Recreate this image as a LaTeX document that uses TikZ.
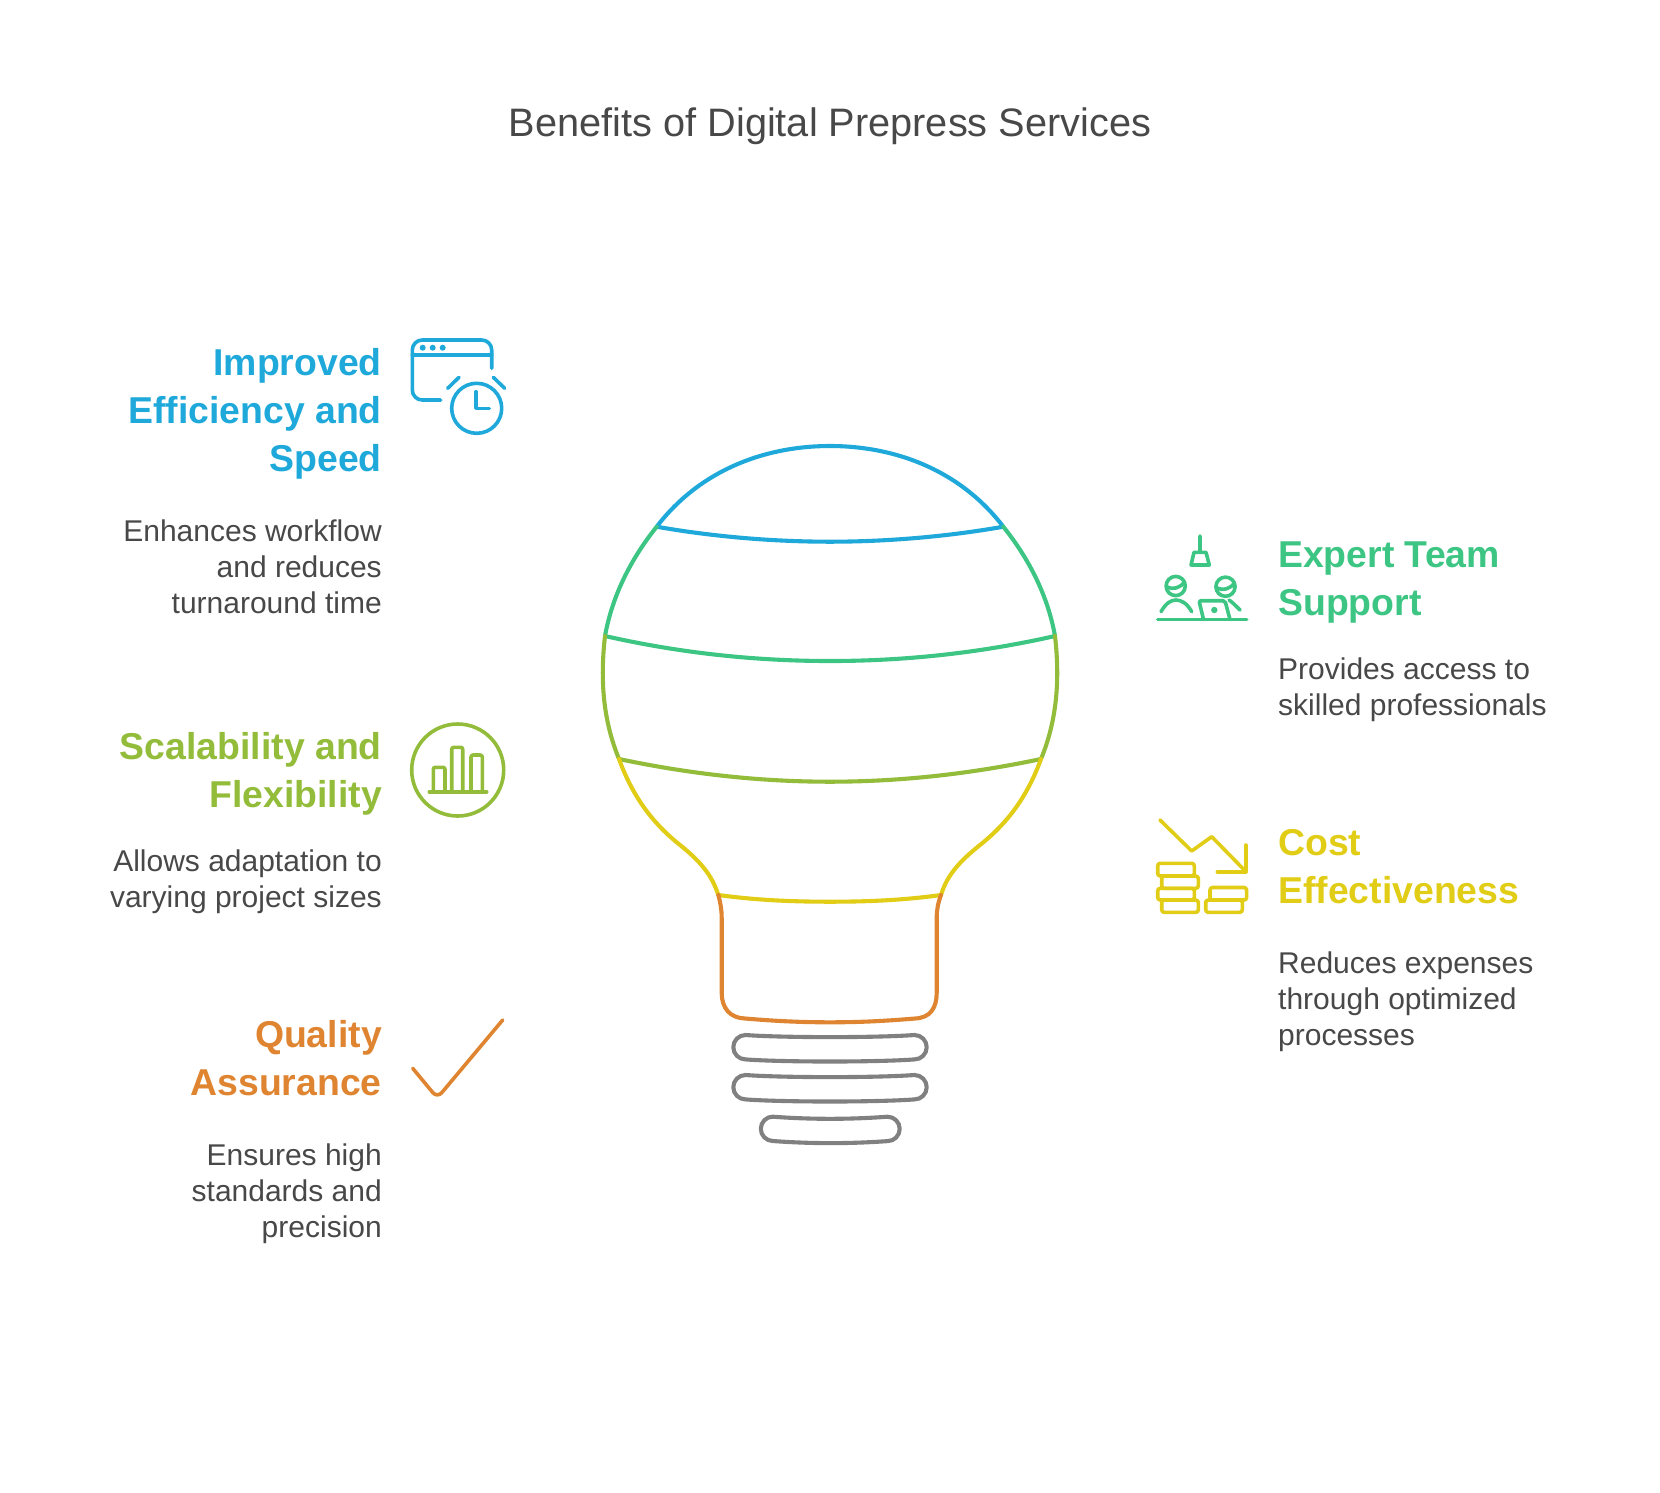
\documentclass[tikz,border=0pt]{standalone}
\usepackage{fontspec}
\setmainfont{Liberation Sans}
\definecolor{tblue}{HTML}{1EA9DA}
\definecolor{tgreen}{HTML}{3DC583}
\definecolor{tolive}{HTML}{92BC3A}
\definecolor{tyellow}{HTML}{E1CC16}
\definecolor{torange}{HTML}{DF8430}
\definecolor{tgrey}{HTML}{808080}
\definecolor{ttext}{HTML}{484848}
\tikzstyle{bulb} = [line width=4.1pt, line cap=round, line join=round]
\tikzstyle{pict} = [line width=3.6pt, line cap=round, line join=round]
\tikzstyle{head} = [inner sep=0pt, font=\bfseries\fontsize{37.4}{48}\selectfont]
\tikzstyle{desc} = [inner sep=0pt, text=ttext, font=\fontsize{30}{36}\selectfont]
\newcommand{\pill}[4]{\draw [bulb, tgrey] (#1+12,#3) .. controls (#1+50,#3+2.8) and (#2-50,#3+2.8) .. (#2-12,#3)
	arc (-90:90:12.2) .. controls (#2-50,#4+2.8) and (#1+50,#4+2.8) .. (#1+12,#4) arc (90:270:12.2) -- cycle;}
\newcommand{\coin}[3]{\draw [pict, tyellow, rounded corners=2.5pt] (#1,#2) rectangle (#1+36.6,#3);}
\begin{document}
\begin{tikzpicture}[x=1pt, y=-1pt]
	\useasboundingbox (0,0) rectangle (1660,1492);
	\node (title) at (830,126) [text=ttext, inner sep=0pt, font=\fontsize{39.7}{46}\selectfont] {Benefits of Digital Prepress Services};
	% bulb, top to bottom
	\draw [bulb, tblue] (656.7,526.7) .. controls (700,470) and (765,446) .. (830,446) .. controls (895,446) and (960,470) .. (1003.3,526.7)
		.. controls (945,537) and (885,541.7) .. (830,541.7) .. controls (775,541.7) and (715,537) .. cycle;
	\draw [bulb, tgreen] (656.7,526.7) .. controls (630,560) and (612,597) .. (605,636) .. controls (680,653) and (755,661) .. (830,661)
		.. controls (905,661) and (980,653) .. (1055,636) .. controls (1048,597) and (1030,560) .. (1003.3,526.7);
	\draw [bulb, tolive] (605,636) .. controls (600,680) and (603,720) .. (619,759) .. controls (690,774) and (760,781.7) .. (830,781.7)
		.. controls (900,781.7) and (970,774) .. (1041,759) .. controls (1057,720) and (1060,680) .. (1055,636);
	\draw [bulb, tyellow] (619,759) .. controls (634,800) and (655,825) .. (680,845) .. controls (700,861) and (712,875) .. (718.3,895)
		.. controls (755,900) and (790,901.7) .. (830,901.7) .. controls (870,901.7) and (905,900) .. (941,895)
		.. controls (947,875) and (960,861) .. (980,845) .. controls (1005,825) and (1026,800) .. (1041,759);
	\draw [bulb, torange] (718.3,895) .. controls (720.5,903) and (721.7,910) .. (721.7,918) -- (721.7,993)
		.. controls (721.7,1008) and (730,1018) .. (745,1018.5) .. controls (775,1021) and (800,1022.3) .. (830,1022.3)
		.. controls (860,1022.3) and (885,1021) .. (915,1018.5) .. controls (930,1018) and (936.7,1008) .. (936.7,993)
		-- (936.7,918) .. controls (936.7,910) and (938,903) .. (941,895);
	\pill{733.5}{926.5}{1035}{1059.4}
	\pill{733.5}{926.5}{1075}{1099.4}
	\pill{761}{899.5}{1116.7}{1141}
	% improved efficiency
	\node (effhead) at (382,471) [head, text=tblue, anchor=base east, align=right] {Improved\\Efficiency and\\Speed};
	\node (effdesc) at (382,613) [desc, anchor=base east, align=right] {Enhances workflow\\and reduces\\turnaround time};
	\draw [pict, tblue] (491.7,368.3) -- (491.7,350) arc (0:-90:10) -- (422.3,340) arc (-90:-180:10) -- (412.3,390) arc (180:90:10) -- (440.7,400);
	\draw [pict, tblue] (412.3,355) -- (491.7,355);
	\foreach \dotx in {422.7,432.7,442.7} \fill [tblue] (\dotx,347.7) circle (3pt);
	\draw [pict, tblue] (476.7,408.3) circle (25);
	\draw [pict, tblue] (476,391.7) -- (476,408.3) -- (489.3,408.3);
	\draw [pict, tblue] (447.7,388.3) -- (459,377.3) (493.3,377.3) -- (504.7,388.3);
	% scalability
	\node (scahead) at (382,807) [head, text=tolive, anchor=base east, align=right] {Scalability and\\Flexibility};
	\node (scadesc) at (382,907) [desc, anchor=base east, align=right] {Allows adaptation to\\varying project sizes};
	\draw [pict, tolive] (457.7,770) circle (46);
	\draw [pict, tolive] (429.3,791.7) -- (486.7,791.7);
	\foreach \barl/\barr/\bart in {433.3/445/767.3,451.7/462.7/747.3,471/482.3/755}
		\draw [pict, tolive, rounded corners=2pt] (\barl,791.7) -- (\barl,\bart) -- (\barr,\bart) -- (\barr,791.7);
	% quality
	\node (quahead) at (382,1095) [head, text=torange, anchor=base east, align=right] {Quality\\Assurance};
	\node (quadesc) at (382,1237) [desc, anchor=base east, align=right] {Ensures high\\standards and\\precision};
	\draw [pict, torange, rounded corners=7pt] (412.7,1068.3) -- (437.3,1098) -- (502.7,1020);
	% expert team
	\node (exphead) at (1278,615) [head, text=tgreen, anchor=base west, align=left] {Expert Team\\Support};
	\node (expdesc) at (1278,715) [desc, anchor=base west, align=left] {Provides access to\\skilled professionals};
	\draw [pict, tgreen] (1157.7,619.5) -- (1246.7,619.5);
	\draw [pict, tgreen] (1200,536) -- (1200,552.3) (1194,552.3) -- (1206,552.3) -- (1209.3,565) -- (1191,565) -- cycle;
	\draw [pict, tgreen] (1175.7,586) circle (9.6);
	\draw [pict, tgreen] (1167,587) .. controls (1173,590) and (1180,588) .. (1184.5,582);
	\draw [pict, tgreen] (1161,611.7) .. controls (1166,603) and (1171,600) .. (1176,600) .. controls (1181,600) and (1187,603) .. (1191.7,611.7);
	\draw [pict, tgreen] (1225.5,586.7) circle (9.6);
	\draw [pict, tgreen] (1217,588) .. controls (1223,591) and (1230,589) .. (1234.5,583);
	\draw [pict, tgreen] (1229,600) .. controls (1232,602) and (1235,605) .. (1240,610);
	\draw [pict, tgreen, rounded corners=2pt] (1203.5,619.5) -- (1199,600.7) -- (1225,600.7) -- (1230,619.5);
	\fill [tgreen] (1214.3,610) circle (3.2pt);
	% cost
	\node (coshead) at (1278,903) [head, text=tyellow, anchor=base west, align=left] {Cost\\Effectiveness};
	\node (cosdesc) at (1278,1045) [desc, anchor=base west, align=left] {Reduces expenses\\through optimized\\processes};
	\draw [pict, tyellow] (1160,820) -- (1191.7,851) -- (1211.7,836.7) -- (1246,871.7);
	\draw [pict, tyellow] (1246,845) -- (1246,871.7) -- (1217.3,871.7);
	\coin{1157.7}{863.3}{876}
	\coin{1161.7}{876}{888.3}
	\coin{1157.7}{888.3}{900}
	\coin{1161.7}{900}{912.3}
	\coin{1210}{887.5}{900}
	\coin{1205.7}{900}{912.3}
\end{tikzpicture}
\end{document}
